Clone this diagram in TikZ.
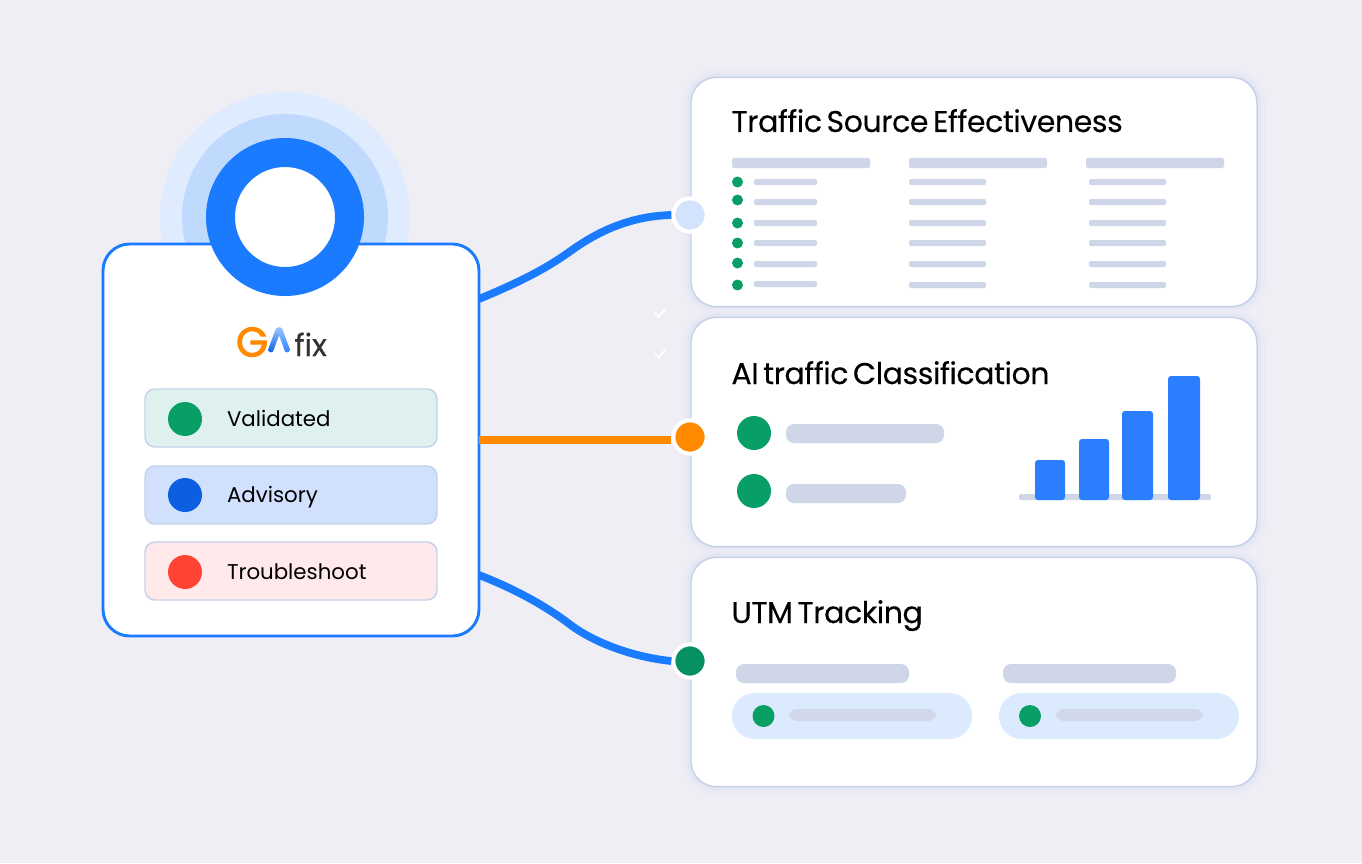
\documentclass[tikz,border=0pt]{standalone}
\usepackage{fontspec}
\setmainfont{Poppins}
\newfontfamily\titlefont[LetterSpace=-1.4, WordSpace=0.6, FakeBold=0.25]{Poppins}
\newfontfamily\logofont[FakeBold=2.5]{Poppins}
\newfontfamily\fixfont[FakeBold=0.4]{Poppins}
\usepackage{tikz}
\definecolor{pagebg}{HTML}{EFEEF5}
\definecolor{halofar}{HTML}{DFEBFE}
\definecolor{halonear}{HTML}{C0DAFD}
\definecolor{mainblue}{HTML}{1A7BFF}
\definecolor{barblue}{HTML}{2B7FFF}
\definecolor{barline}{HTML}{CFD6E8}
\definecolor{cardline}{HTML}{C5D1EA}
\definecolor{cardglow}{HTML}{E3E7F3}
\definecolor{cardglowfar}{HTML}{EAEBF5}
\definecolor{okgreen}{HTML}{089F66}
\definecolor{portgreen}{HTML}{089160}
\definecolor{portorange}{HTML}{FF8A00}
\definecolor{portpale}{HTML}{D3E3FD}
\definecolor{pillblue}{HTML}{DCEAFD}
\definecolor{badgegreen}{HTML}{DEF1EF}
\definecolor{badgeblue}{HTML}{D0E0FD}
\definecolor{badgered}{HTML}{FFE9EB}
\definecolor{dotblue}{HTML}{0B5FE0}
\definecolor{dotred}{HTML}{FF4433}
\tikzset{every picture/.style={line width=0.75pt}}
\tikzset{
  infocard/.style={draw=cardline, fill=white, line width=1.1pt, rounded corners=19pt, minimum width=424.5pt, minimum height=172pt, inner sep=0pt, outer sep=0pt,
    preaction={draw=cardglowfar, line width=13pt}, preaction={draw=cardglow, line width=6pt}},
  badge/.style={draw=cardline, line width=1.1pt, rounded corners=7.5pt, minimum width=219pt, minimum height=43.5pt, inner sep=0pt},
  port/.style={circle, draw=white, line width=3pt, minimum size=25pt, inner sep=0pt},
  link/.style={line width=5.8pt},
  bar/.style={fill=barline, rounded corners=1.5pt},
  fatbar/.style={fill=barline, rounded corners=6pt},
  chartbar/.style={fill=barblue, rounded corners=2.2pt},
  pill/.style={fill=pillblue, rounded corners=17pt},
  okdot/.style={fill=okgreen},
  titletext/.style={anchor=base west, inner sep=0pt, font=\titlefont\fontsize{22.5}{26}\selectfont, text=black},
  badgetext/.style={anchor=base west, inner sep=0pt, font=\fontsize{16}{20}\selectfont, text=black}
}

\begin{document}
\begin{tikzpicture}[x=0.75pt,y=0.75pt,yscale=-1,xscale=1]
%set diagram to the full page
\fill [pagebg] (0,0) rectangle (1362,863);

%Shape: Circle halo
\draw (285,217) node (halofar) [circle, fill=halofar, minimum size=187.5pt, inner sep=0pt] {};
\draw (285,217) node (halonear) [circle, fill=halonear, minimum size=154.5pt, inner sep=0pt] {};

%Shape: Rounded Rect main card
\draw (291,440) node (maincard) [draw=mainblue, fill=white, line width=2.2pt, rounded corners=20pt, minimum width=282pt, minimum height=294pt, inner sep=0pt, outer sep=0pt] {};
%Shape: Circle ring
\draw (285,217) node (ring) [circle, draw=mainblue, fill=white, line width=21.75pt, minimum size=96.75pt, inner sep=0pt] {};

%Shape: Rounded Rect right cards
\draw (974,192) node (sourcecard) [infocard] {};
\draw (974,432) node (classcard) [infocard] {};
\draw (974,672) node (utmcard) [infocard] {};

%Shape: Circle ports
\draw (690,215) node (portsource) [port, fill=portpale] {};
\draw (690,437) node (portclass) [port, fill=portorange] {};
\draw (690,661) node (portutm) [port, fill=portgreen] {};

%Curve Lines
\draw [link, mainblue] ([yshift=-105.75pt]maincard.east) .. controls (525,280) and (550,266) .. (572,250) .. controls (603,228) and (635,216) .. (portsource.west) ;
%Straight Lines
\draw [link, portorange, line width=6.6pt] (maincard.east) -- (portclass.west |- maincard.east) ;
%Curve Lines
\draw [link, mainblue] ([yshift=101.25pt]maincard.east) .. controls (520,591) and (550,609) .. (572,626) .. controls (600,646) and (640,658) .. (portutm.west) ;

%Shape: Logo
\draw (235.5,356.5) node (logog) [anchor=base west, inner sep=0pt, text=portorange, font=\logofont\fontsize{31}{31}\selectfont] {G};
\shade [top color=barblue!45!white, bottom color=dotblue, rounded corners=1.5pt] (267.5,351) -- (276.5,327) -- (281.5,329) -- (272.5,353) -- cycle ;
\shade [top color=barblue!45!white, bottom color=barblue, rounded corners=1.5pt] (276.5,328) -- (281.5,326.5) -- (290.5,351) -- (285.5,353) -- cycle ;
\draw (294,356) node (logofix) [anchor=base west, inner sep=0pt, text=black!80, font=\fixfont\fontsize{23}{24}\selectfont] {fix};

%Shape: Rounded Rect badges
\draw (291,418) node (badgeok) [badge, fill=badgegreen] {};
\draw (291,495) node (badgeadv) [badge, fill=badgeblue] {};
\draw (291,571) node (badgefix) [badge, fill=badgered] {};
%Shape: Circle badge dots
\fill [okgreen] (185,419) circle [radius=17];
\fill [dotblue] (185,495) circle [radius=17];
\fill [dotred] (185,572) circle [radius=17];
% Text Node
\draw (226.5,426) node (txtok) [badgetext] {Validated};
% Text Node
\draw (226.5,502) node (txtadv) [badgetext] {Advisory};
% Text Node
\draw (226.5,579) node (txtfix) [badgetext] {Troubleshoot};

% Text Node
\draw (731,132) node (ttlsource) [titletext] {Traffic Source Effectiveness};
% Text Node
\draw (731,384) node (ttlclass) [titletext] {AI traffic Classification};
% Text Node
\draw (731,623) node (ttlutm) [titletext] {UTM Tracking};

%Shape: Table head
\fill [bar] (732,158) rectangle (870,168);
\fill [bar] (909,158) rectangle (1047,168);
\fill [bar] (1086,158) rectangle (1224,168);
%Shape: Table dots
\fill [okdot] (737.5,182) circle [radius=5.5];
\fill [okdot] (737.5,200) circle [radius=5.5];
\fill [okdot] (737.5,223) circle [radius=5.5];
\fill [okdot] (737.5,243) circle [radius=5.5];
\fill [okdot] (737.5,263) circle [radius=5.5];
\fill [okdot] (737.5,285) circle [radius=5.5];
%Shape: Table rows
\fill [bar] (754,179) rectangle (817,185);
\fill [bar] (754,199) rectangle (817,205);
\fill [bar] (754,220) rectangle (817,226);
\fill [bar] (754,240) rectangle (817,246);
\fill [bar] (754,261) rectangle (817,267);
\fill [bar] (754,281) rectangle (817,287);
\fill [bar] (909,179) rectangle (986,185);
\fill [bar] (909,199) rectangle (986,205);
\fill [bar] (909,220) rectangle (986,226);
\fill [bar] (909,240) rectangle (986,246);
\fill [bar] (909,261) rectangle (986,267);
\fill [bar] (909,282) rectangle (986,288);
\fill [bar] (1089,179) rectangle (1166,185);
\fill [bar] (1089,199) rectangle (1166,205);
\fill [bar] (1089,220) rectangle (1166,226);
\fill [bar] (1089,240) rectangle (1166,246);
\fill [bar] (1089,261) rectangle (1166,267);
\fill [bar] (1089,282) rectangle (1166,288);

%Shape: Checks
\draw [white, line width=1.4pt, line cap=round, line join=round] (655,313) -- (658.5,317) -- (665,309) ;
\draw [white, line width=1.4pt, line cap=round, line join=round] (655,354) -- (658.5,358) -- (665,350) ;

%Shape: Class rows
\fill [okdot] (754,433) circle [radius=17];
\fill [okdot] (754,491) circle [radius=17];
\fill [fatbar] (786,424) rectangle (944,443);
\fill [fatbar] (786,484) rectangle (906,503);
%Shape: Chart
\fill [bar] (1019,494) rectangle (1211,500);
\fill [chartbar] (1035,460) rectangle (1065,500);
\fill [chartbar] (1079,439) rectangle (1109,500);
\fill [chartbar] (1122,411) rectangle (1153,500);
\fill [chartbar] (1168,376) rectangle (1200,500);

%Shape: UTM heads
\fill [fatbar] (736,664) rectangle (909,683);
\fill [fatbar] (1003,664) rectangle (1176,683);
%Shape: UTM pills
\fill [pill] (732,693) rectangle (972,739);
\fill [pill] (999,693) rectangle (1239,739);
\fill [okdot] (763.5,716) circle [radius=11];
\fill [okdot] (1030,716) circle [radius=11];
\fill [fatbar, fill=barline!90!pillblue] (789,709) rectangle (936,721);
\fill [fatbar, fill=barline!90!pillblue] (1056,709) rectangle (1203,721);

\end{tikzpicture}
\end{document}
